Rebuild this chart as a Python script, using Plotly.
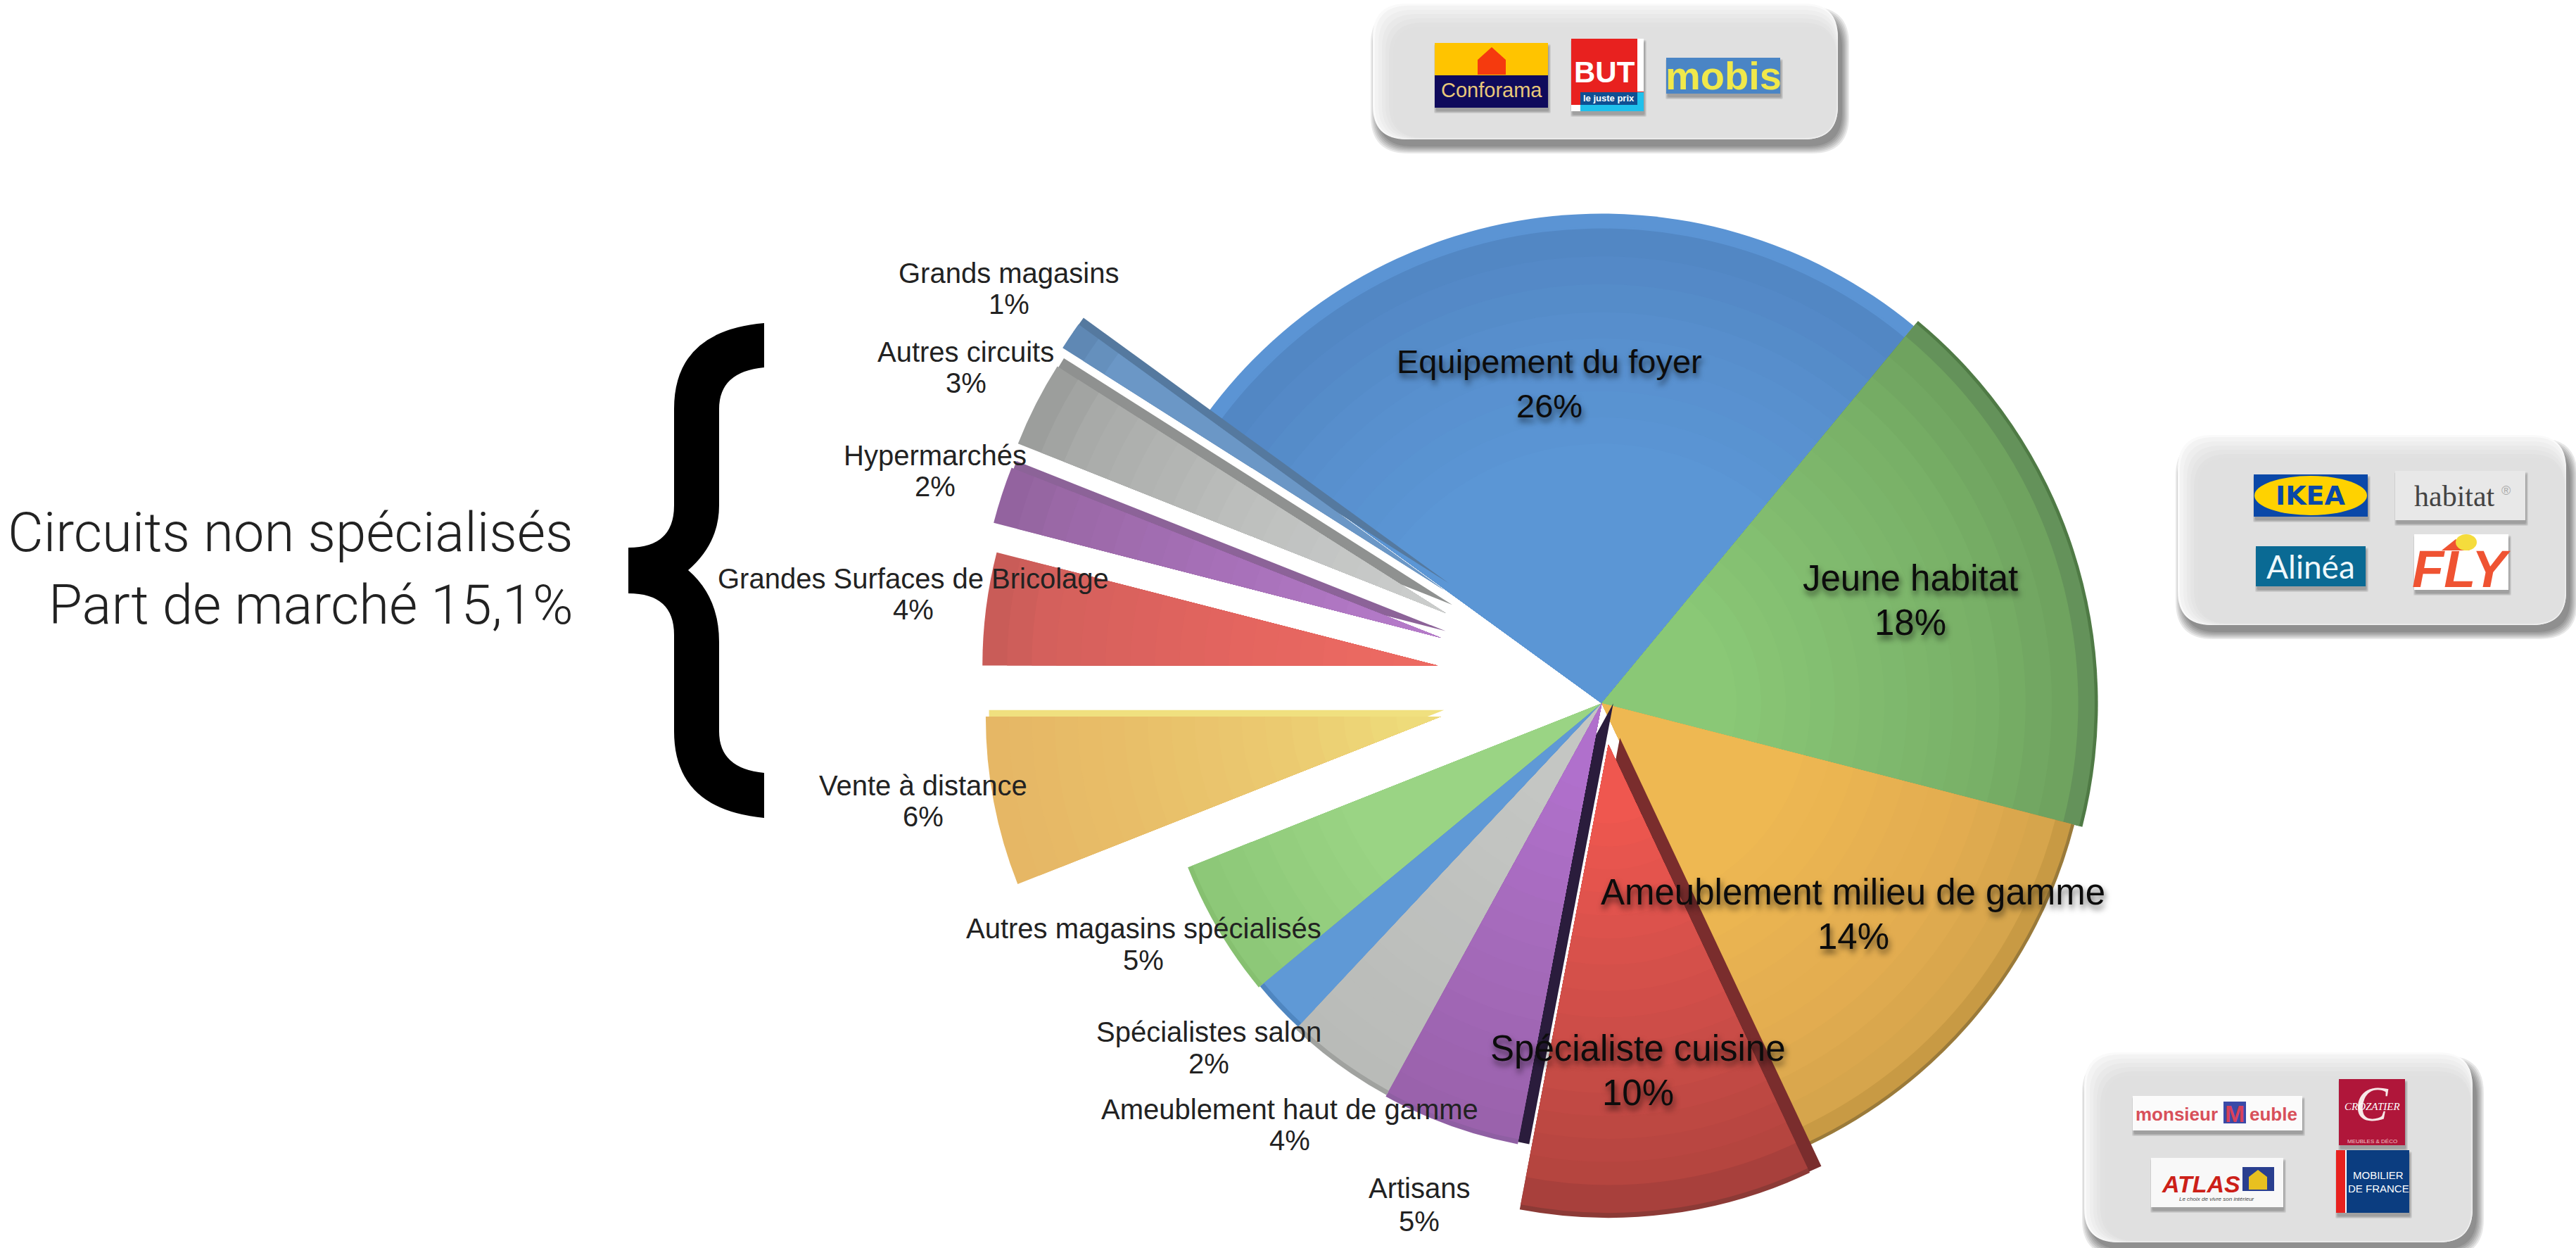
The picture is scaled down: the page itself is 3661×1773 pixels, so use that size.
import plotly.graph_objects as go

W, H = 3661, 1773
S = W / 1568

# ---- data ----
categories = ["Equipement du foyer", "Jeune habitat", "Ameublement milieu de gamme", "Spécialiste cuisine",
              "Artisans", "Ameublement haut de gamme", "Spécialistes salon", "Autres magasins spécialisés",
              "Vente à distance", "Grandes Surfaces de Bricolage", "Hypermarchés", "Autres circuits",
              "Grands magasins"]
values = [26, 18, 14, 10, 5, 4, 2, 5, 6, 4, 2, 3, 1]
# (inset from the rim, colour), from rim to centre: the soft 3D shading of each slice
rings = [
    [(0, "#5b94d4"), (8, "#5b94d4"), (9, "#5287c4"), (60, "#578ecc"), (140, "#5b96d5")],
    [(0, "#4f7a45"), (2, "#64925a"), (12, "#6fa35f"), (60, "#78b067"), (130, "#80ba6e"), (220, "#8ac876")],
    [(0, "#9a7a3a"), (2, "#c89a44"), (12, "#d6a54c"), (60, "#e2ac50"), (170, "#eeb852")],
    [(0, "#8c3a36"), (3, "#a8403c"), (20, "#b5453f"), (90, "#c94c47"), (170, "#dc524c"), (240, "#ef574f")],
    [(0, "#8f5fa3"), (3, "#9a62ac"), (120, "#a66bbc"), (220, "#b070cc")],
    [(0, "#a0a29f"), (3, "#b9bbb8"), (200, "#c4c6c3")],
    [(0, "#4f86c0"), (3, "#5f99d6")],
    [(0, "#86c070"), (3, "#8dc878"), (100, "#9ad484")],
    [(0, "#e6b765"), (70, "#e8bd68"), (170, "#ebca70"), (250, "#eedb7a")],
    [(0, "#c95c58"), (30, "#d4605c"), (150, "#e4655f"), (250, "#ec6a62")],
    [(0, "#93639f"), (30, "#9a68a6"), (120, "#a56fb6"), (250, "#b47ac8")],
    [(0, "#9c9e9c"), (30, "#a8aaa8"), (130, "#bcbebc"), (250, "#cacccb")],
    [(0, "#5f88b4"), (30, "#6b97c6")],
]
side_colors = [None, None, None, "#7a2d2d", "#2a1c3c", None, None, None,
               "#f0e07f", None, "#8c6398", "#8f9190", "#55799f"]
start_angle = 306

label_pos = [(943, 220, 247), (1163, 352, 379), (1128, 543, 570), (997, 638, 665),
             (864, 723, 743), (785, 675, 694), (736, 628, 647), (696, 565, 584),
             (562, 478, 497), (556, 352, 371), (569, 277, 296), (588, 214, 233), (614, 166, 185)]
label_sizes = [47, 51, 51, 51, 40, 40, 40, 40, 40, 40, 40, 40, 40]

# wedge geometry: apex x, apex y, radius in thumbnail units
wedge_geo = [(975, 428, 298), (975, 428, 302), (975, 428, 297), (979, 453, 288),
             (975, 428, 273), (975, 428, 272), (975, 428, 270), (975, 428, 271),
             (877, 436, 277), (875, 405, 277), (877, 388, 281), (880, 373, 280), (879, 359, 275)]
side_shift = {3: (7, -4), 4: (7, 0), 8: (2, -4), 10: (3, -4), 11: (4, -5), 12: (3, -4)}
draw_order = [0, 1, 2, 7, 6, 5, 4, 3, 8, 9, 10, 11, 12]

fig = go.Figure()


def wedge(i, cx, cy, R, color):
    colors = ["rgba(0,0,0,0)"] * len(values)
    colors[i] = color
    fig.add_trace(go.Pie(
        labels=categories, values=values, sort=False, direction="clockwise", rotation=start_angle,
        textinfo="none", hoverinfo="label+percent", showlegend=False,
        marker=dict(colors=colors, line=dict(width=0)),
        domain=dict(x=[(cx - R) * S / W, (cx + R) * S / W],
                    y=[1 - (cy + R) * S / H, 1 - (cy - R) * S / H])))


def mix(c1, c2, t):
    a = [int(c1[k:k + 2], 16) for k in (1, 3, 5)]
    b = [int(c2[k:k + 2], 16) for k in (1, 3, 5)]
    return "#" + "".join(f"{round(p + (q - p) * t):02x}" for p, q in zip(a, b))


for i in draw_order:
    cx, cy, R = wedge_geo[i]
    if side_colors[i]:
        dx, dy = side_shift[i]
        wedge(i, cx + dx, cy + dy, R, side_colors[i])
    stops = rings[i]
    for (a, ca), (b, cb) in zip(stops, stops[1:]):
        n = max(1, (b - a) // 14)
        for k in range(n):
            wedge(i, cx, cy, R - a - (b - a) * k / n, mix(ca, cb, k / n))
    wedge(i, cx, cy, R - stops[-1][0], stops[-1][1])

shapes, annotations = [], []


def px(x):
    return x / W


def py(y):
    return 1 - y / H


def rrect(x0, y0, x1, y1, r):
    X0, X1, Y0, Y1 = px(x0), px(x1), py(y0), py(y1)
    rx, ry = r / W, r / H
    return (f"M{X0 + rx},{Y0} L{X1 - rx},{Y0} Q{X1},{Y0} {X1},{Y0 - ry} L{X1},{Y1 + ry} Q{X1},{Y1} {X1 - rx},{Y1} "
            f"L{X0 + rx},{Y1} Q{X0},{Y1} {X0},{Y1 + ry} L{X0},{Y0 - ry} Q{X0},{Y0} {X0 + rx},{Y0} Z")


def path(d, fill, opacity=1):
    shapes.append(dict(type="path", xref="paper", yref="paper", path=d, fillcolor=fill,
                       opacity=opacity, line=dict(width=0), layer="above"))


def rect(x0, y0, x1, y1, fill, shadow=True):
    if shadow:
        for k in range(4):
            path(rrect(x0 + 2 - k, y0 + 5 - k, x1 + 1 + k, y1 + 5 + k, 2), "#000000", 0.08)
    path(rrect(x0, y0, x1, y1, 0.01), fill)


def ell(x0, y0, x1, y1, fill):
    shapes.append(dict(type="circle", xref="paper", yref="paper", x0=px(x0), x1=px(x1), y0=py(y1), y1=py(y0),
                       fillcolor=fill, line=dict(width=0), layer="above"))


def poly(points, fill):
    d = "M" + " L".join(f"{px(x)},{py(y)}" for x, y in points) + " Z"
    path(d, fill)


def text(x, y, s, size, color="#111111", family="Liberation Sans", anchor="center", **fontkw):
    annotations.append(dict(x=px(x), y=py(y), xref="paper", yref="paper", text=s, showarrow=False,
                            xanchor=anchor, yanchor="middle", align=anchor,
                            font=dict(size=size, color=color, family=family, **fontkw)))


def card(x0, y0, x1, y1):
    r = 48
    for k in range(6):
        path(rrect(x0 + 4 - k * 2, y0 + 12 - k * 2, x1 + 6 + k * 2, y1 + 10 + k * 2, r + k), "#000000", 0.09)
    path(rrect(x0 - 3, y0 - 3, x1, y1, r), "#fafafa")
    steps = ["#f3f3f3", "#eeeeee", "#e9e9e9", "#e5e5e5", "#e1e1e1"]
    for k, c in enumerate(steps):
        path(rrect(x0 + k * 5, y0 + k * 6, x1 - k * 0.5, y1 - k * 0.5, r), c)
    path(rrect(x0 + 26, y0 + 30, x1 - 3, y1 - 3, r - 8), "#e0e0e0")


# ---- cards and logos ----
card(1954, 8, 2612, 198)
rect(2039, 61, 2200, 153, "#ffc400")
path(rrect(2039, 107, 2200, 153, 0.01), "#0f0a5c")
poly([(2100, 106), (2100, 85), (2120, 67), (2140, 85), (2140, 106)], "#f53a0e")
text(2120, 128, "Conforama", 29, "#e8c87a")
rect(2233, 55, 2336, 158, "#e8211f")
path(rrect(2327, 55, 2336, 130, 0.01), "#ffffff")
path(rrect(2246, 131, 2336, 158, 0.01), "#1fc0ec")
path(rrect(2246, 131, 2327, 149, 0.01), "#0f4f92")
path(rrect(2233, 149, 2246, 158, 0.01), "#ffffff")
text(2280, 103, "<b>BUT</b>", 42, "#ffffff")
text(2286, 140, "<b>le juste prix</b>", 13, "#ffffff")
rect(2368, 82, 2530, 133, "#4a85c5")
text(2449, 107, "<b>mobis</b>", 56, "#f0e84a")

card(3098, 621, 3647, 888)
rect(3203, 674, 3365, 734, "#0a48a8")
ell(3204, 676, 3364, 732, "#ffd200")
text(3284, 704, "<b>IKEA</b>", 38, "#0a48a8", "DejaVu Sans")
rect(3404, 669, 3589, 739, "#e8e8e8")
text(3488, 705, "habitat", 42, "#444444", "Liberation Serif")
text(3561, 697, "®", 18, "#aaaaaa")
rect(3206, 776, 3362, 833, "#0a6a94")
text(3284, 805, "Alinéa", 46, "#eef8fb", "Lato")
rect(3431, 759, 3565, 838, "#ffffff")
poly([(3470, 782), (3490, 766), (3510, 782)], "#ef5332")
ell(3490, 759, 3520, 782, "#f5dc3c")
text(3498, 808, "<b><i>FLY</i></b>", 74, "#ef5332")

card(2965, 1498, 3514, 1765)
rect(3031, 1557, 3272, 1606, "#fbfbfb")
text(3093, 1583, "<b>monsieur</b>", 26, "#d8505a")
path(rrect(3160, 1565, 3192, 1596, 0.01), "#3a4aa8")
text(3176, 1582, "<b>M</b>", 34, "#d8405a")
text(3231, 1583, "<b>euble</b>", 26, "#d8505a")
rect(3324, 1533, 3418, 1627, "#b0163a")
text(3371, 1568, "<i>C</i>", 70, "#f7e8e8", "Liberation Serif")
text(3371, 1572, "<i>CROZATIER</i>", 15, "#ffffff", "Liberation Serif")
text(3371, 1621, "MEUBLES & DÉCO", 8, "#f0c8c8")
rect(3057, 1645, 3245, 1715, "#f8f8f8")
text(3128, 1682, "<b><i>ATLAS</i></b>", 34, "#cc2018")
path(rrect(3187, 1658, 3232, 1692, 0.01), "#2a3f8f")
poly([(3196, 1690), (3196, 1672), (3209, 1662), (3222, 1672), (3222, 1690)], "#e8c020")
text(3150, 1703, "<i>Le choix de vivre son intérieur</i>", 8, "#444444")
rect(3320, 1634, 3424, 1723, "#0b3d80")
path(rrect(3320, 1634, 3333, 1723, 0.01), "#e8211f")
path(rrect(3333, 1634, 3335, 1723, 0.01), "#ffffff")
text(3380, 1669, "MOBILIER", 15, "#ffffff")
text(3380, 1688, "DE FRANCE", 15, "#ffffff")

# ---- pie labels ----
for i, (name, val, pos, size) in enumerate(zip(categories, values, label_pos, label_sizes)):
    lx, ly, vy = pos
    big = i < 4
    kw = dict(shadow="2px 6px 8px rgba(0,0,0,0.6)") if big else {}
    text(lx * S, ly * S, name, size, "#0c0c0c" if big else "#222222", **kw)
    text(lx * S, vy * S, f"{val}%", size, "#0c0c0c" if big else "#222222", **kw)

# ---- side note ----
text(350 * S, 324 * S, "Circuits non spécialisés", 78, "#222222", "Roboto", anchor="right", weight=300)
text(350 * S, 368 * S, "Part de marché 15,1%", 78, "#222222", "Roboto", anchor="right", weight=300)

# the large brace
brace = [("M", (1086, 459)), ("L", (1086, 522)), ("Q", (1022, 528, 1022, 581)), ("L", (1022, 718)),
         ("Q", (1022, 772, 978, 810)), ("Q", (1022, 848, 1022, 912)), ("L", (1022, 1039)),
         ("Q", (1022, 1092, 1086, 1098)), ("L", (1086, 1162)), ("Q", (958, 1150, 958, 1039)), ("L", (958, 902)),
         ("Q", (958, 843, 893, 843)), ("L", (893, 778)), ("Q", (958, 778, 958, 718)), ("L", (958, 581)),
         ("Q", (958, 470, 1086, 459))]
d = ""
for cmd, c in brace:
    pts = " ".join(f"{px(c[k])},{py(c[k + 1])}" for k in range(0, len(c), 2))
    d += f"{cmd}{pts} "
path(d + "Z", "#000000")

fig.update_layout(width=W, height=H, margin=dict(l=0, r=0, t=0, b=0), paper_bgcolor="white",
                  plot_bgcolor="white", showlegend=False, shapes=shapes, annotations=annotations)
fig.write_html("out.html", config=dict(displayModeBar=False),
               post_script="document.body.style.margin='0';document.body.style.overflow='hidden';")
